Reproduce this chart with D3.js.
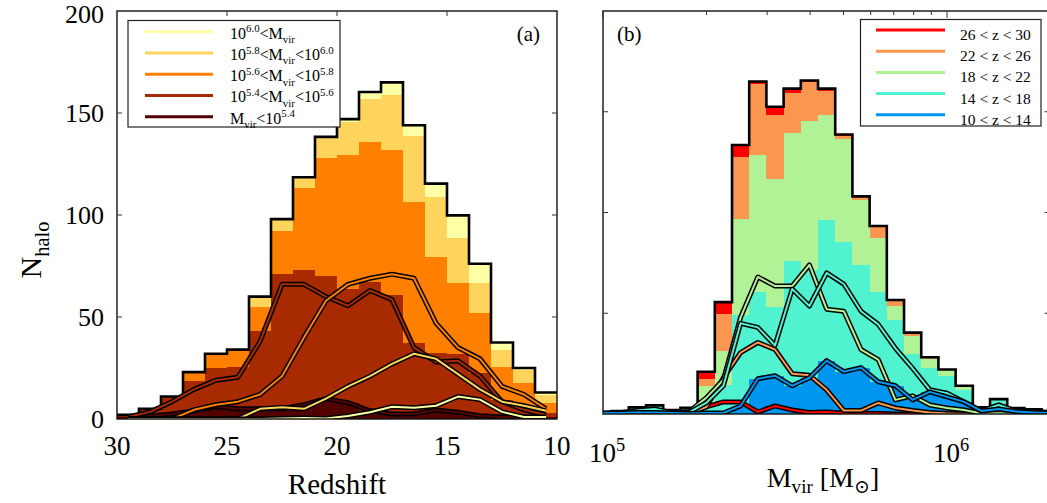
<!DOCTYPE html>
<html><head><meta charset="utf-8">
<script src="https://cdn.jsdelivr.net/npm/d3@7"></script>
<style>html,body{margin:0;padding:0;background:#fff;}svg{display:block;}</style>
</head><body>
<svg id="chart" width="1047" height="503"></svg>
<script>
// ---------------- DATA ----------------
// Panel (a): redshift bin centres (bins of width 1 from z=30 to z=10)
const redshiftCenters = [29.5,28.5,27.5,26.5,25.5,24.5,23.5,22.5,21.5,20.5,19.5,18.5,17.5,16.5,15.5,14.5,13.5,12.5,11.5,10.5];
const nMassLt54   = [1,1.5,2.5,4,6,5,5,5,7,10,8,4,2.5,2.5,4.4,3.3,1.6,1,1,1];
const nMass54to56 = [1,3.5,8.5,14.5,19,20.5,38,66,66,60,55.5,63,58.5,35,28,28.5,21,8.5,4.5,2];
const nMass56to58 = [0,0,0,4.5,7,8.5,12,21,40,58,66,69,71,69,47,35,29.5,16,12,5];
const nMass58to60 = [0,0,0,0,0,0,5,5.7,5,10,16,21,27,32,29.5,22,14.5,8.5,6.5,4];
const nMassGt60   = [0,0,0,0,0,0,0,0.3,0.5,0.3,1.5,3.3,6,5.5,6.5,11,9.5,3.5,1,1];
const massLabels = [
  [["10"],["6.0","sup"],["<M"],["vir","sub"]],
  [["10"],["5.8","sup"],["<M"],["vir","sub"],["<10"],["6.0","sup"]],
  [["10"],["5.6","sup"],["<M"],["vir","sub"],["<10"],["5.8","sup"]],
  [["10"],["5.4","sup"],["<M"],["vir","sub"],["<10"],["5.6","sup"]],
  [["M"],["vir","sub"],["<10"],["5.4","sup"]]
];
const massColors = ["#ffffa6","#ffd45c","#ff8000","#a82a00","#520000"]; // top -> bottom of legend

// Panel (b): log10(Mvir) bin centres (bins of 0.05 dex)
const logMassCenters = [5.00,5.05,5.10,5.15,5.20,5.25,5.30,5.35,5.40,5.45,5.50,5.55,5.60,5.65,5.70,5.75,5.80,5.85,5.90,5.95,6.00,6.05,6.10,6.15,6.20,6.25,6.30];
const nZ26to30 = [0,0,0,0,0,0.5,3.5,6,6,1,4,2,0.7,1,0.5,0.3,0.3,0,0,0,0,0,0,0,0,0,0];
const nZ22to26 = [0,0,0,0,0,0.3,3.5,18,30.5,35.5,32,20,19.2,12,1.7,1.7,5.5,3,1.7,0.7,0.3,0,0,0,0,0,0];
const nZ18to22 = [0.2,0.4,0.8,1,0.8,1.2,8,17,48,68,63.5,63.5,74,52,51,32,27,7,9,4.5,3,2,0.3,0.4,0.3,0.3,0.2];
const nZ14to18 = [0.3,0.6,1.8,2.5,0.7,0.8,5.5,14,45,43,34,62,53.6,70,64.5,51,44.5,32.6,22.7,12,10.3,6,1.5,4.5,1.5,1.2,0.7];
const nZ10to14 = [0.5,0.5,0.7,0.8,0.5,0.3,0.5,0.5,4,17.5,19,14,18,26.5,21,23,16,14,7,11,8.5,6,1.5,2.5,1.2,0.8,0.6];
const zLabels = ["26 < z < 30","22 < z < 26","18 < z < 22","14 < z < 18","10 < z < 14"];
const zColors = ["#ff0000","#fa9650","#b2f296","#50f2d0","#0096f0"]; // top -> bottom of legend

const redshiftTicks = [30,25,20,15,10];
const countTicks = [0,50,100,150,200];
const massMajorTicks = [1e5,1e6];
const massMinorTicks = [2e5,3e5,4e5,5e5,6e5,7e5,8e5,9e5,2e6];

// ---------------- DRAWING ----------------
const SERIF = "'Liberation Serif','DejaVu Serif','Times New Roman',serif";
const svg = d3.select("#chart");

function rich(textSel, parts, size, subShift) {
  let cur = 0;
  const sb = subShift === undefined ? 0.28 : subShift;
  parts.forEach(p => {
    const str = p[0], mode = p[1] || "n";
    const target = mode === "sup" ? -0.4 * size : mode === "sub" ? sb * size : 0;
    textSel.append("tspan").attr("dy", target - cur)
      .attr("font-size", mode === "n" ? size : size * 0.68).text(str);
    cur = target;
  });
  return textSel;
}

function drawDoubleLine(g, pts, x, y, color) {
  const line = d3.line().x(d => x(d[0])).y(d => y(d[1]));
  g.append("path").attr("d", line(pts)).attr("fill", "none")
    .attr("stroke", "#000").attr("stroke-width", 5).attr("stroke-linejoin", "round");
  g.append("path").attr("d", line(pts)).attr("fill", "none")
    .attr("stroke", color).attr("stroke-width", 2).attr("stroke-linejoin", "round");
}

// ===== Panel (a) =====
const xA = d3.scaleLinear().domain([30, 10]).range([117, 557]);
const yA = d3.scaleLinear().domain([0, 200]).range([419, 11]);
svg.append("clipPath").attr("id", "clipA").append("rect")
  .attr("x", xA(30)).attr("y", yA(200)).attr("width", xA(10) - xA(30)).attr("height", yA(0) - yA(200));
const gA = svg.append("g").attr("clip-path", "url(#clipA)");

const seriesA = [nMassLt54, nMass54to56, nMass56to58, nMass58to60, nMassGt60];
const colorsA = massColors.slice().reverse();
const rowsA = redshiftCenters.map((z, i) => seriesA.map(s => s[i]));
const stackA = d3.stack().keys(d3.range(seriesA.length))(rowsA);
stackA.forEach((layer, j) => {
  gA.append("g").selectAll("rect").data(layer).join("rect")
    .attr("shape-rendering", "crispEdges")
    .attr("x", (d, i) => xA(redshiftCenters[i] + 0.5))
    .attr("width", (d, i) => xA(redshiftCenters[i] - 0.5) - xA(redshiftCenters[i] + 0.5))
    .attr("y", d => yA(d[1]))
    .attr("height", d => Math.max(0, yA(d[0]) - yA(d[1])))
    .attr("fill", colorsA[j]);
});
// outline of totals
const totA = rowsA.map(r => d3.sum(r));
const stepA = [];
redshiftCenters.forEach((z, i) => { stepA.push([z + 0.5, totA[i]]); stepA.push([z - 0.5, totA[i]]); });
gA.append("path").attr("d", d3.line().x(d => xA(d[0])).y(d => yA(d[1]))(stepA))
  .attr("fill", "none").attr("stroke", "#000").attr("stroke-width", 2.6);
// individual lines
seriesA.forEach((s, j) => {
  drawDoubleLine(gA, redshiftCenters.map((z, i) => [z, s[i]]), xA, yA, colorsA[j]);
});
// frame
svg.append("rect").attr("x", xA(30)).attr("y", yA(200)).attr("width", xA(10) - xA(30)).attr("height", yA(0) - yA(200))
  .attr("fill", "none").attr("stroke", "#111").attr("stroke-width", 1.4);
// ticks
countTicks.slice(1, -1).forEach(v => {
  svg.append("line").attr("x1", xA(30)).attr("x2", xA(30) + 5).attr("y1", yA(v)).attr("y2", yA(v)).attr("stroke", "#333");
  svg.append("line").attr("x1", xA(10)).attr("x2", xA(10) - 5).attr("y1", yA(v)).attr("y2", yA(v)).attr("stroke", "#333");
});
redshiftTicks.slice(1, -1).forEach(v => {
  svg.append("line").attr("x1", xA(v)).attr("x2", xA(v)).attr("y1", yA(200)).attr("y2", yA(200) + 5).attr("stroke", "#333");
});
// tick labels
countTicks.forEach(v => {
  svg.append("text").attr("x", 104).attr("y", Math.max(yA(v) + 9, 23)).attr("text-anchor", "end")
    .attr("font-family", SERIF).attr("font-size", 26).text(v);
});
redshiftTicks.forEach(v => {
  svg.append("text").attr("x", xA(v)).attr("y", 455).attr("text-anchor", "middle")
    .attr("font-family", SERIF).attr("font-size", 27).text(v);
});
svg.append("text").attr("x", (xA(30) + xA(10)) / 2).attr("y", 494).attr("text-anchor", "middle")
  .attr("font-family", SERIF).attr("font-size", 29).text("Redshift");
rich(svg.append("text").attr("transform", "translate(41,250) rotate(-90)").attr("text-anchor", "middle")
  .attr("font-family", SERIF), [["N"], ["halo", "sub"]], 30);
svg.append("text").attr("x", 540).attr("y", 41).attr("text-anchor", "end")
  .attr("font-family", SERIF).attr("font-size", 21).text("(a)");
// legend (a)
const legA = svg.append("g");
legA.append("rect").attr("x", 128).attr("y", 20.5).attr("width", 212).attr("height", 106.5)
  .attr("fill", "#fff").attr("stroke", "#222").attr("stroke-width", 1.2);
massLabels.forEach((lab, i) => {
  const ly = 31.7 + i * 21.25;
  legA.append("line").attr("x1", 145).attr("x2", 213).attr("y1", ly).attr("y2", ly)
    .attr("stroke", massColors[i]).attr("stroke-width", 3);
  rich(legA.append("text").attr("x", 230).attr("y", ly + 7).attr("font-family", SERIF), lab, 16);
});

// ===== Panel (b) =====
const xB = d3.scaleLog().domain([1e5, 2e6]).range([603, 1050.6]);
const yB = d3.scaleLinear().domain([0, 200]).range([414, 11]);
svg.append("clipPath").attr("id", "clipB").append("rect")
  .attr("x", xB(1e5)).attr("y", yB(200)).attr("width", xB(2e6) - xB(1e5)).attr("height", yB(0) - yB(200));
const gB = svg.append("g").attr("clip-path", "url(#clipB)");
const seriesB = [nZ10to14, nZ14to18, nZ18to22, nZ22to26, nZ26to30];
const colorsB = zColors.slice().reverse();
const rowsB = logMassCenters.map((c, i) => seriesB.map(s => s[i]));
const stackB = d3.stack().keys(d3.range(seriesB.length))(rowsB);
const halfW = 0.025;
stackB.forEach((layer, j) => {
  gB.append("g").selectAll("rect").data(layer).join("rect")
    .attr("shape-rendering", "crispEdges")
    .attr("x", (d, i) => xB(Math.pow(10, logMassCenters[i] - halfW)))
    .attr("width", (d, i) => xB(Math.pow(10, logMassCenters[i] + halfW)) - xB(Math.pow(10, logMassCenters[i] - halfW)))
    .attr("y", d => yB(d[1]))
    .attr("height", d => Math.max(0, yB(d[0]) - yB(d[1])))
    .attr("fill", colorsB[j]);
});
const totB = rowsB.map(r => d3.sum(r));
const stepB = [];
logMassCenters.forEach((c, i) => { stepB.push([Math.pow(10, c - halfW), totB[i]]); stepB.push([Math.pow(10, c + halfW), totB[i]]); });
gB.append("path").attr("d", d3.line().x(d => xB(d[0])).y(d => yB(d[1]))(stepB))
  .attr("fill", "none").attr("stroke", "#000").attr("stroke-width", 2.6);
seriesB.slice().reverse().forEach((s, jj) => {
  const j = seriesB.length - 1 - jj;
  drawDoubleLine(gB, logMassCenters.map((c, i) => [Math.pow(10, c), s[i]]), xB, yB, colorsB[j]);
});
svg.append("rect").attr("x", xB(1e5)).attr("y", yB(200)).attr("width", xB(2e6) - xB(1e5)).attr("height", yB(0) - yB(200))
  .attr("fill", "none").attr("stroke", "#111").attr("stroke-width", 1.4);
countTicks.slice(1, -1).forEach(v => {
  svg.append("line").attr("x1", xB(1e5)).attr("x2", xB(1e5) + 5).attr("y1", yB(v)).attr("y2", yB(v)).attr("stroke", "#333");
  svg.append("line").attr("x1", xB(2e6)).attr("x2", xB(2e6) - 6).attr("y1", yB(v)).attr("y2", yB(v)).attr("stroke", "#333");
});
massMinorTicks.forEach(v => {
  svg.append("line").attr("x1", xB(v)).attr("x2", xB(v)).attr("y1", yB(200)).attr("y2", yB(200) + 4).attr("stroke", "#333");
});
massMajorTicks.forEach(v => {
  svg.append("line").attr("x1", xB(v)).attr("x2", xB(v)).attr("y1", yB(200)).attr("y2", yB(200) + 7).attr("stroke", "#333");
  const e = Math.round(Math.log10(v));
  rich(svg.append("text").attr("x", xB(v) + 4).attr("y", 462).attr("text-anchor", "middle")
    .attr("font-family", SERIF), [["10"], [String(e), "sup"]], 27);
});
rich(svg.append("text").attr("x", 823).attr("y", 487).attr("text-anchor", "middle")
  .attr("font-family", SERIF), [["M"], ["vir", "sub"], [" [M"], ["\u2299", "sub"], ["]"]], 28, 0.22);
svg.append("text").attr("x", 617).attr("y", 41).attr("font-family", SERIF).attr("font-size", 21).text("(b)");
const legB = svg.append("g");
legB.append("rect").attr("x", 860.5).attr("y", 19.5).attr("width", 180.5).attr("height", 106.5)
  .attr("fill", "#fff").attr("stroke", "#222").attr("stroke-width", 1.2);
zLabels.forEach((lab, i) => {
  const ly = 30 + i * 21.2;
  legB.append("line").attr("x1", 876).attr("x2", 945).attr("y1", ly).attr("y2", ly)
    .attr("stroke", zColors[i]).attr("stroke-width", 3);
  legB.append("text").attr("x", 960).attr("y", ly + 10).attr("font-family", SERIF)
    .attr("font-size", 15.5).text(lab);
});
</script>
</body></html>
